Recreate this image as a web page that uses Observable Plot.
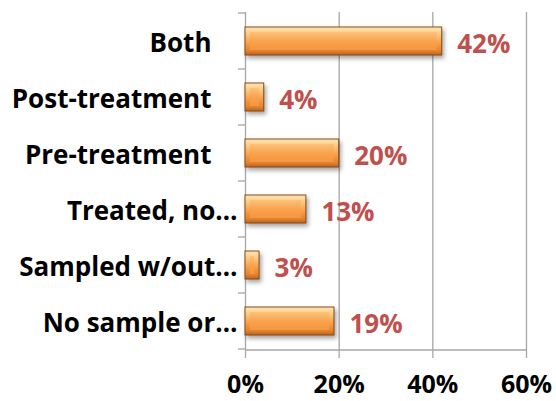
<!DOCTYPE html>
<html><head><meta charset="utf-8">
<script src="https://cdn.jsdelivr.net/npm/d3@7"></script>
<script src="https://cdn.jsdelivr.net/npm/@observablehq/plot@0.6"></script>
<style>
body{margin:0;background:#fff}
#chart svg g.outerbar rect{filter:drop-shadow(2px 3px 2px rgba(0,0,0,0.35))}
</style>
</head><body><div id="chart"></div>
<script>
const categories = ["Both","Post-treatment","Pre-treatment","Treated, no…","Sampled w/out…","No sample or…"];
const values = [42,4,20,13,3,19];
const xTicks = [0,20,40,60];
const data = categories.map((c,i)=>({category:c, value:values[i]}));
const font = "'Open Sans', sans-serif";
const gray = "#a6a6a6";

function bandLines(index, scales, vals, dims) {
  const g = d3.create("svg:g").attr("stroke", gray).attr("stroke-width", 1.3);
  const x0 = scales.x(0);
  const step = scales.y.step ? scales.y.step() : scales.y.bandwidth() * 2;
  const starts = categories.map(c => scales.y(c) - (step - scales.y.bandwidth()) / 2);
  starts.push(starts[starts.length - 1] + step);
  for (const y of starts) g.append("line").attr("x1", x0 - 7).attr("x2", x0).attr("y1", y).attr("y2", y);
  const yb = dims.height - dims.marginBottom;
  g.append("line").attr("x1", x0).attr("x2", scales.x(60)).attr("y1", yb).attr("y2", yb);
  return g.node();
}

const chart = Plot.plot({
  width: 556, height: 401,
  marginLeft: 245, marginRight: 30, marginTop: 12, marginBottom: 51,
  style: {fontFamily: font, fontWeight: 700, background: "#fff", color: "#000"},
  x: {domain: [0, 60], label: null},
  y: {domain: categories, label: null, paddingInner: 0.5, paddingOuter: 0.25},
  marks: [
    Plot.gridX(xTicks, {stroke: gray, strokeOpacity: 1, strokeWidth: 1.3}),
    Plot.axisX({ticks: xTicks, tickFormat: d => d + "%", tickSize: 8, tickPadding: 17, fontSize: 25, stroke: gray, strokeWidth: 1.3, label: null}),
    Plot.axisY({tickSize: 0, tickPadding: 8, fontSize: 26, dy: 2, label: null,
      tickFormat: d => d.endsWith("…") ? d : d + "\u2003"}),
    bandLines,
    Plot.barX(data, {x: "value", y: "category", fill: "url(#barOuter)", stroke: "#8a4a16", strokeWidth: 1, className: "outerbar"}),
    Plot.barX(data, {x: "value", y: "category", fill: "url(#barInner)", insetLeft: 5, insetRight: 5, insetTop: 5, insetBottom: 5}),
    Plot.text(data, {x: "value", y: "category", text: d => d.value + "%", textAnchor: "start", dx: 15, dy: 3, fill: "#C0504D", fontSize: 26, fontWeight: 700})
  ]
});
chart.insertAdjacentHTML("afterbegin", `<defs>
<linearGradient id="barOuter" x1="0" y1="0" x2="0" y2="1">
<stop offset="0" stop-color="#fee6b8"/><stop offset="0.2" stop-color="#fdd08a"/>
<stop offset="0.55" stop-color="#f9a04a"/><stop offset="0.85" stop-color="#e5822c"/><stop offset="1" stop-color="#b8651f"/>
</linearGradient>
<linearGradient id="barInner" x1="0" y1="0" x2="0" y2="1">
<stop offset="0" stop-color="#fcc27a"/><stop offset="0.5" stop-color="#f9a34e"/><stop offset="1" stop-color="#f49640"/>
</linearGradient></defs>`);
document.getElementById("chart").appendChild(chart);
</script>
</body></html>
